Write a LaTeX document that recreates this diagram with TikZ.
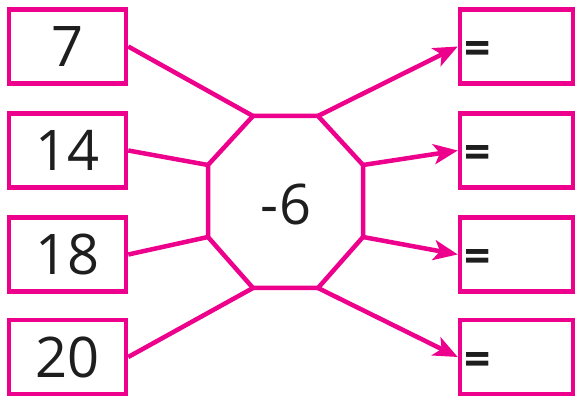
\documentclass[tikz,border=0pt]{standalone}
\usepackage{fontspec}
\setmainfont{Open Sans}
\usetikzlibrary{arrows.meta}
\definecolor{mag}{RGB}{236,0,140}
\definecolor{ink}{RGB}{30,30,30}
\begin{document}
\begin{tikzpicture}[x=1pt,y=-1pt,
  box/.style={draw=mag,line width=4.5pt,minimum width=117pt,minimum height=74pt,inner sep=0pt,
    font=\fontsize{56}{56}\selectfont,text=ink},
  rbox/.style={draw=mag,line width=4.5pt,minimum width=113pt,minimum height=74pt,inner sep=0pt},
  eq/.style={anchor=center,inner sep=0pt,font=\fontsize{46}{46}\selectfont\bfseries,text=ink},
  conn/.style={draw=mag,line width=4.5pt},
  arr/.style={conn,-{Stealth[length=24pt,width=20pt,inset=6pt]}}]
\useasboundingbox (0,0) rectangle (576,398);
% left boxes
\node[box] (a) at (67.5,46.5) {7};
\node[box] (b) at (67.5,150.5) {14};
\node[box] (c) at (67.5,254.5) {18};
\node[box] (d) at (67.5,357) {20};
% right boxes
\node[rbox] (r1) at (516.5,46.5) {};
\node[rbox] (r2) at (516.5,150.5) {};
\node[rbox] (r3) at (516.5,254.5) {};
\node[rbox] (r4) at (516.5,357) {};
\node[eq] (e1) at (478,53) {=};
\node[eq] (e2) at (478,157) {=};
\node[eq] (e3) at (478,261) {=};
\node[eq] (e4) at (478,364) {=};
% octagon
\coordinate (t1) at (253,116);
\coordinate (t2) at (318,116);
\coordinate (q1) at (363,165);
\coordinate (q2) at (363,237);
\coordinate (u2) at (318,288);
\coordinate (u1) at (253,288);
\coordinate (p2) at (208,237);
\coordinate (p1) at (208,165);
\draw[conn,line join=miter] (t1) -- (t2) -- (q1) -- (q2) -- (u2) -- (u1) -- (p2) -- (p1) -- cycle;
\node[inner sep=0pt,font=\fontsize{56}{56}\selectfont,text=ink] (op) at (286,204) {-6};
% connectors
\draw[conn] (a.east) -- (t1);
\draw[conn] (b.east) -- (p1);
\draw[conn] (c.east) -- (p2);
\draw[conn] (d.east) -- (u1);
\draw[arr] (t2) -- (r1.west);
\draw[arr] (q1) -- (r2.west);
\draw[arr] (q2) -- (r3.west);
\draw[arr] (u2) -- (r4.west);
\end{tikzpicture}
\end{document}
